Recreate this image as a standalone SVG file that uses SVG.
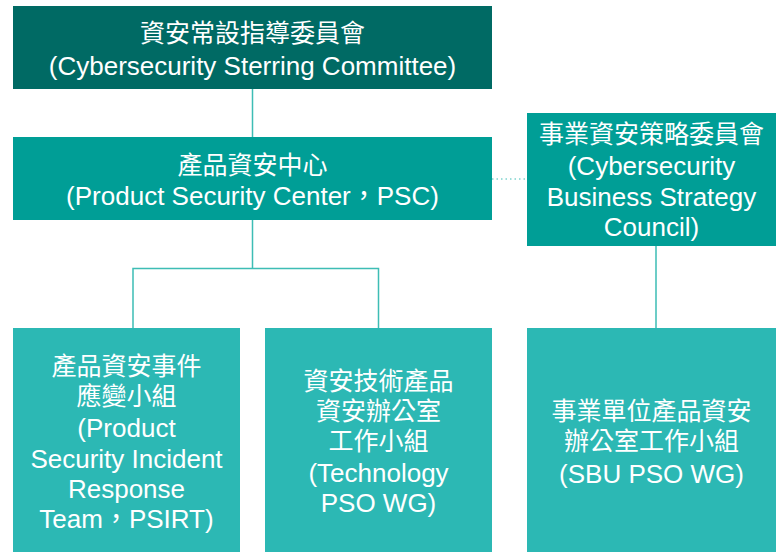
<svg xmlns="http://www.w3.org/2000/svg" width="776" height="552" viewBox="0 0 776 552">
<style>
.t{font-family:"Liberation Sans","Noto Sans CJK TC",Arial,sans-serif;fill:#fff;text-anchor:middle}
.c{font-size:25px}
.e{font-size:26px}
.ln{stroke:#3dbdb5;stroke-width:1.5;fill:none}
</style>
<rect width="776" height="552" fill="#fff"/>
<g id="connectors">
<path class="ln" d="M252.5 89V137M252.5 220V268.5M133 328V268.5H378.5V328M656 246V328"/>
<path d="M492 179H527" stroke="#3dbdb5" stroke-width="1" stroke-dasharray="1.5 3" fill="none"/>
</g>
<g id="steering">
<rect x="13" y="6" width="479" height="83" fill="#006a64"/>
<text class="t c" x="252.5" y="42">資安常設指導委員會</text>
<text class="t e" x="252.5" y="75">(Cybersecurity Sterring Committee)</text>
</g>
<g id="psc">
<rect x="13" y="137" width="479" height="83" fill="#009e96"/>
<text class="t c" x="252.5" y="174">產品資安中心</text>
<text class="t e" x="252.5" y="205">(Product Security Center，PSC)</text>
</g>
<g id="council">
<rect x="527" y="113" width="249" height="133" fill="#009e96"/>
<text class="t c" x="651.5" y="143">事業資安策略委員會</text>
<text class="t e" x="651.5" y="175">(Cybersecurity</text>
<text class="t e" x="651.5" y="206">Business Strategy</text>
<text class="t e" x="651.5" y="236">Council)</text>
</g>
<g id="psirt">
<rect x="13" y="328" width="227" height="224" fill="#2cb8b4"/>
<text class="t c" x="126.5" y="375">產品資安事件</text>
<text class="t c" x="126.5" y="405">應變小組</text>
<text class="t e" x="126.5" y="437">(Product</text>
<text class="t e" x="126.5" y="468">Security Incident</text>
<text class="t e" x="126.5" y="498">Response</text>
<text class="t e" x="126.5" y="528">Team，PSIRT)</text>
</g>
<g id="tech">
<rect x="265" y="328" width="227" height="224" fill="#2cb8b4"/>
<text class="t c" x="378.5" y="390">資安技術產品</text>
<text class="t c" x="378.5" y="420">資安辦公室</text>
<text class="t c" x="378.5" y="450">工作小組</text>
<text class="t e" x="378.5" y="482">(Technology</text>
<text class="t e" x="378.5" y="512">PSO WG)</text>
</g>
<g id="sbu">
<rect x="527" y="328" width="249" height="224" fill="#2cb8b4"/>
<text class="t c" x="651.5" y="420">事業單位產品資安</text>
<text class="t c" x="651.5" y="450">辦公室工作小組</text>
<text class="t e" x="651.5" y="483">(SBU PSO WG)</text>
</g>
</svg>
